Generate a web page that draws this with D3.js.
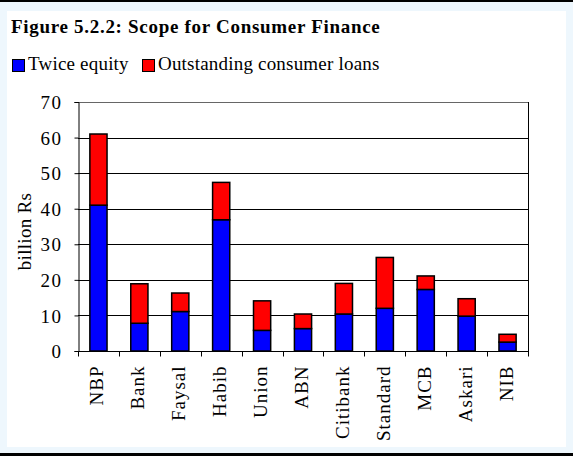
<!DOCTYPE html>
<html>
<head>
<meta charset="utf-8">
<script src="https://cdn.jsdelivr.net/npm/d3@7"></script>
<style>
  html, body { margin: 0; padding: 0; background: #eef7fd; }
  svg { display: block; }
</style>
</head>
<body>
<svg id="chart" width="573" height="456"></svg>
<script>
const categories = ["NBP", "Bank", "Faysal", "Habib", "Union", "ABN", "Citibank", "Standard", "MCB", "Askari", "NIB"];
const twiceEquity = [41.0, 7.8, 11.1, 36.9, 5.8, 6.3, 10.4, 12.0, 17.3, 9.8, 2.5];
const consumerLoans = [20.0, 11.1, 5.2, 10.5, 8.3, 4.1, 8.6, 14.3, 3.8, 4.9, 2.2];
const seriesNames = ["Twice equity", "Outstanding consumer loans"];
const seriesColors = ["#0000ff", "#ff0000"];
const yTicks = [0, 10, 20, 30, 40, 50, 60, 70];
const titleText = "Figure 5.2.2: Scope for Consumer Finance";
const yAxisTitle = "billion Rs";

const svg = d3.select("#chart");
const W = 573, H = 456;
const font = "'Liberation Serif', 'Times New Roman', serif";

// page frame
svg.append("rect").attr("x", 0).attr("y", 0).attr("width", W).attr("height", H).attr("fill", "#eef7fd");
svg.append("rect").attr("x", 0).attr("y", 0).attr("width", W).attr("height", 2).attr("fill", "#000");
svg.append("rect").attr("x", 0).attr("y", 453).attr("width", W).attr("height", 3).attr("fill", "#000");
svg.append("rect").attr("x", 7).attr("y", 11).attr("width", 559).attr("height", 436).attr("fill", "#fff");

const m = { left: 78, right: 528, top: 102, bottom: 351 };

const x = d3.scaleBand().domain(categories).range([m.left, m.right]).paddingInner(0.58).paddingOuter(0.29);
const xb = d3.scaleBand().domain(categories).range([m.left, m.right]).padding(0);
const y = d3.scaleLinear().domain([0, 70]).range([m.bottom, m.top]);

// title
svg.append("text").attr("x", 11).attr("y", 33)
  .attr("font-family", font).attr("font-weight", "bold").attr("font-size", 19)
  .attr("letter-spacing", 0.7)
  .attr("fill", "#000").text(titleText);

// legend
const legendX = [12, 142];
seriesNames.forEach((name, i) => {
  svg.append("rect").attr("x", legendX[i] + 0.5).attr("y", 59.5).attr("width", 12).attr("height", 12)
    .attr("fill", seriesColors[i]).attr("stroke", "#000").attr("stroke-width", 1);
  svg.append("text").attr("x", legendX[i] + 16).attr("y", 70)
    .attr("font-family", font).attr("font-size", 19).attr("letter-spacing", 0.2)
    .attr("fill", "#000").text(name);
});

// gridlines
svg.append("g").selectAll("line").data(yTicks.filter(d => d > 0)).join("line")
  .attr("x1", m.left).attr("x2", m.right)
  .attr("y1", d => Math.round(y(d)) + 0.5).attr("y2", d => Math.round(y(d)) + 0.5)
  .attr("stroke", d => d === 70 ? "#666" : "#000").attr("stroke-width", 1);

// right border
svg.append("line").attr("x1", m.right + 0.5).attr("x2", m.right + 0.5)
  .attr("y1", m.top).attr("y2", m.bottom).attr("stroke", "#000");

// stacked bars
const data = categories.map((c, i) => ({ cat: c, a: twiceEquity[i], b: consumerLoans[i] }));
const stack = d3.stack().keys(["a", "b"])(data);
stack.forEach((layer, li) => {
  svg.append("g").selectAll("rect").data(layer).join("rect")
    .attr("x", d => x(d.data.cat))
    .attr("width", x.bandwidth())
    .attr("y", d => y(d[1]))
    .attr("height", d => y(d[0]) - y(d[1]))
    .attr("fill", seriesColors[li])
    .attr("stroke", "#000").attr("stroke-width", 1.5);
});

// y axis
const yAxis = svg.append("g").attr("transform", `translate(${m.left + 0.5},0)`)
  .call(d3.axisLeft(y).tickValues(yTicks).tickSize(4).tickPadding(12));
yAxis.select(".domain").attr("stroke", "#000");
yAxis.selectAll("line").attr("stroke", "#000");
yAxis.selectAll("text").attr("font-family", font).attr("font-size", 19)
  .attr("letter-spacing", 1.5).attr("fill", "#000").attr("dy", "0.35em");

// x axis with ticks at band boundaries
const xAxis = svg.append("g").attr("transform", `translate(0,${m.bottom + 0.5})`);
xAxis.append("line").attr("x1", m.left).attr("x2", m.right + 1).attr("stroke", "#000");
const bounds = categories.map(c => xb(c)).concat([m.right]);
xAxis.selectAll("line.tick").data(bounds).join("line").attr("class", "tick")
  .attr("x1", d => Math.round(d) + 0.5).attr("x2", d => Math.round(d) + 0.5)
  .attr("y1", 0).attr("y2", 5).attr("stroke", "#000");
xAxis.selectAll("text").data(categories).join("text")
  .attr("transform", d => `translate(${xb(d) + xb.bandwidth() / 2 + 5},14) rotate(-90)`)
  .attr("text-anchor", "end")
  .attr("font-family", font).attr("font-size", 19).attr("letter-spacing", 1)
  .attr("fill", "#000")
  .text(d => d);

// y axis title
svg.append("text").attr("transform", `translate(31,${(m.top + m.bottom) / 2 + 5}) rotate(-90)`)
  .attr("text-anchor", "middle").attr("font-family", font).attr("font-size", 19)
  .attr("letter-spacing", 0.3)
  .attr("fill", "#000").text(yAxisTitle);
</script>
</body>
</html>
